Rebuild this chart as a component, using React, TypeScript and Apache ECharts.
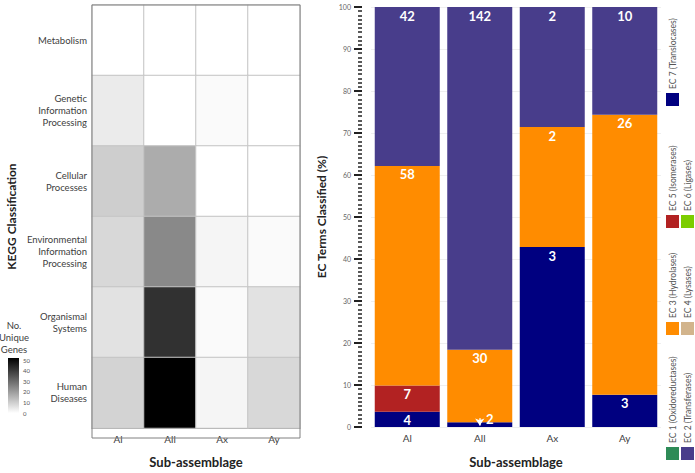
import React, { useEffect, useRef } from 'react';
import * as echarts from 'echarts';

// ---------- Heatmap data ----------
const heatCols = ['Al', 'All', 'Ax', 'Ay'];
const heatRows = [
  'Metabolism',
  'Genetic\nInformation\nProcessing',
  'Cellular\nProcesses',
  'Environmental\nInformation\nProcessing',
  'Organismal\nSystems',
  'Human\nDiseases',
];
const heatValues = [
  [0, 0, 0, 0],
  [4, 0, 1, 0],
  [10, 17, 0, 0],
  [8, 24, 2, 1],
  [6, 42, 1, 6],
  [9, 52, 2, 8],
];
const colorbarTicks = [0, 10, 20, 30, 40, 50];
const colorMax = 52;

// ---------- EC stacked bar data ----------
const ecCategories = ['Al', 'All', 'Ax', 'Ay'];
const ecNames = [
  'EC 1 (Oxidoreductases)',
  'EC 2 (Transferases)',
  'EC 3 (Hydrolases)',
  'EC 4 (Lysases)',
  'EC 5 (Isomerases)',
  'EC 6 (Ligases)',
  'EC 7 (Translocases)',
];
const ecColors = ['#2e8b57', '#483d8b', '#ff8c00', '#d2b48c', '#b22222', '#7ccd00', '#000080'];
const ec1 = [0, 0, 0, 0];
const ec2 = [42, 142, 2, 10];
const ec3 = [58, 30, 2, 26];
const ec4 = [0, 0, 0, 0];
const ec5 = [7, 0, 0, 0];
const ec6 = [0, 0, 0, 0];
const ec7 = [4, 2, 3, 3];
const ecCounts = [ec1, ec2, ec3, ec4, ec5, ec6, ec7];
const yTicks = [0, 10, 20, 30, 40, 50, 60, 70, 80, 90, 100];

const FONT = 'Lato, "Open Sans", sans-serif';

function buildOption() {
  const totals = ecCategories.map((_, i) => ecCounts.reduce((s, arr) => s + arr[i], 0));

  const heatData: any[] = [];
  heatValues.forEach((row, r) => row.forEach((v, c) => heatData.push([c, r, v])));

  const barSeries: any[] = [];
  for (let k = ecCounts.length - 1; k >= 0; k--) {
    const counts = ecCounts[k];
    const isEC7 = k === 6;
    barSeries.push({
      type: 'bar',
      name: ecNames[k],
      stack: 'ec',
      xAxisIndex: 1,
      yAxisIndex: 1,
      barWidth: 65,
      itemStyle: { color: ecColors[k] },
      label: {
        show: true,
        position: 'insideTop',
        distance: 2,
        color: '#ffffff',
        fontWeight: 'bold',
        fontSize: 13,
        fontFamily: FONT,
        formatter: (p: any) => (counts[p.dataIndex] > 0 ? String(counts[p.dataIndex]) : ''),
      },
      data: counts.map((c, i) => {
        const v = (c / totals[i]) * 100;
        if (isEC7 && i === 1) {
          return { value: v, label: { offset: [10, -12] } };
        }
        return v;
      }),
      markLine: isEC7
        ? {
            silent: true,
            symbol: ['none', 'arrow'],
            symbolSize: 7,
            label: { show: false },
            lineStyle: { color: '#ffffff', width: 1.5, type: 'solid' },
            data: [[{ coord: [1.03, 2.1] }, { coord: [0.85, 0.35] }]],
          }
        : undefined,
    });
  }

  // Legend graphics (rotated)
  const groups = [[0, 1], [2, 3], [4, 5], [6]];
  const groupSquareTop = [447, 322, 215, 93];
  const colX = [666, 681];
  const legendGraphics: any[] = [];
  groups.forEach((g, gi) => {
    g.forEach((idx, ci) => {
      const sy = groupSquareTop[gi];
      legendGraphics.push({
        type: 'rect',
        shape: { x: colX[ci], y: sy, width: 13, height: 13 },
        style: { fill: ecColors[idx] },
      });
      legendGraphics.push({
        type: 'text',
        x: colX[ci] + 6.5,
        y: sy - 4,
        rotation: Math.PI / 2,
        style: {
          text: ecNames[idx],
          fill: '#555555',
          font: `8.5px ${FONT}`,
          align: 'left',
          verticalAlign: 'middle',
        },
      });
    });
  });

  // Colorbar graphics
  const cbX = 8, cbTop = 358, cbH = 55, cbW = 11;
  const colorbarGraphics: any[] = [
    {
      type: 'rect',
      shape: { x: cbX, y: cbTop, width: cbW, height: cbH },
      style: {
        fill: new echarts.graphic.LinearGradient(0, 0, 0, 1, [
          { offset: 0, color: '#000000' },
          { offset: 1, color: '#ffffff' },
        ]),
      },
    },
    {
      type: 'text',
      x: 14,
      y: 319,
      style: {
        text: 'No.\nUnique\nGenes',
        fill: '#404040',
        font: `9.5px ${FONT}`,
        align: 'center',
        lineHeight: 12,
      },
    },
    ...colorbarTicks.map((t) => ({
      type: 'text',
      x: cbX + cbW + 4,
      y: cbTop + cbH - (t / colorMax) * cbH,
      style: {
        text: String(t),
        fill: '#555555',
        font: `6px ${FONT}`,
        align: 'left',
        verticalAlign: 'middle',
      },
    })),
  ];

  return {
    animation: false,
    backgroundColor: '#ffffff',
    textStyle: { fontFamily: FONT },
    grid: [
      { left: 92, top: 5, width: 208, bottom: 35 },
      { left: 371, top: 7, right: 34, bottom: 36 },
    ],
    visualMap: {
      type: 'continuous',
      show: false,
      min: 0,
      max: colorMax,
      seriesIndex: 0,
      inRange: { color: ['#ffffff', '#000000'] },
    },
    xAxis: [
      {
        type: 'category',
        gridIndex: 0,
        data: heatCols,
        axisLine: { show: true, lineStyle: { color: '#808080' } },
        axisTick: { show: false },
        axisLabel: { color: '#404040', fontSize: 10, margin: 6, fontFamily: FONT },
        name: 'Sub-assemblage',
        nameLocation: 'middle',
        nameGap: 27,
        nameTextStyle: { fontWeight: 'bold', fontSize: 13, color: '#222', fontFamily: FONT },
      },
      {
        type: 'category',
        gridIndex: 1,
        data: ecCategories,
        axisLine: { show: false },
        axisTick: { show: false },
        axisLabel: { color: '#404040', fontSize: 10, margin: 6, fontFamily: FONT },
        name: 'Sub-assemblage',
        nameLocation: 'middle',
        nameGap: 28,
        nameTextStyle: { fontWeight: 'bold', fontSize: 13, color: '#222', fontFamily: FONT },
      },
    ],
    yAxis: [
      {
        type: 'category',
        gridIndex: 0,
        inverse: true,
        data: heatRows,
        axisLine: { show: true, lineStyle: { color: '#808080' } },
        axisTick: { show: false },
        axisLabel: { color: '#404040', fontSize: 9.5, lineHeight: 12, margin: 5, fontFamily: FONT },
        name: 'KEGG Classification',
        nameLocation: 'middle',
        nameGap: 75,
        nameTextStyle: { fontWeight: 'bold', fontSize: 12, color: '#222', fontFamily: FONT },
      },
      {
        type: 'value',
        gridIndex: 1,
        min: 0,
        max: 100,
        interval: 10,
        offset: 9,
        axisLine: { show: false },
        axisTick: { show: true, length: 8, lineStyle: { color: '#222', width: 2 } },
        minorTick: { show: true, splitNumber: 10, length: 4, lineStyle: { color: '#222', width: 1.5 } },
        splitLine: { show: true, lineStyle: { color: '#efefef' } },
        axisLabel: {
          color: '#666',
          fontSize: 7,
          margin: 11,
          fontFamily: FONT,
          formatter: (v: number) => (yTicks.includes(v) ? String(v) : ''),
        },
        name: 'EC Terms Classified (%)',
        nameLocation: 'middle',
        nameGap: 35,
        nameTextStyle: { fontWeight: 'bold', fontSize: 12, color: '#222', fontFamily: FONT },
      },
    ],
    series: [
      {
        type: 'heatmap',
        xAxisIndex: 0,
        yAxisIndex: 0,
        data: heatData,
        itemStyle: { borderColor: '#c4c4c4', borderWidth: 1 },
        emphasis: { disabled: true },
      },
      ...barSeries,
    ],
    graphic: [
      {
        type: 'rect',
        z: 100,
        shape: { x: 92, y: 5, width: 208, height: 433 },
        style: { fill: 'none', stroke: '#808080', lineWidth: 1 },
      },
      ...colorbarGraphics,
      ...legendGraphics,
    ],
  };
}

export default function App() {
  const ref = useRef<HTMLDivElement>(null);
  useEffect(() => {
    const chart = echarts.init(ref.current!, null, { renderer: 'svg' });
    chart.setOption(buildOption() as any);
    return () => chart.dispose();
  }, []);
  return (
    <div
      ref={ref}
      style={{ position: 'fixed', left: 0, top: 0, width: 695, height: 473, background: '#fff' }}
    />
  );
}
